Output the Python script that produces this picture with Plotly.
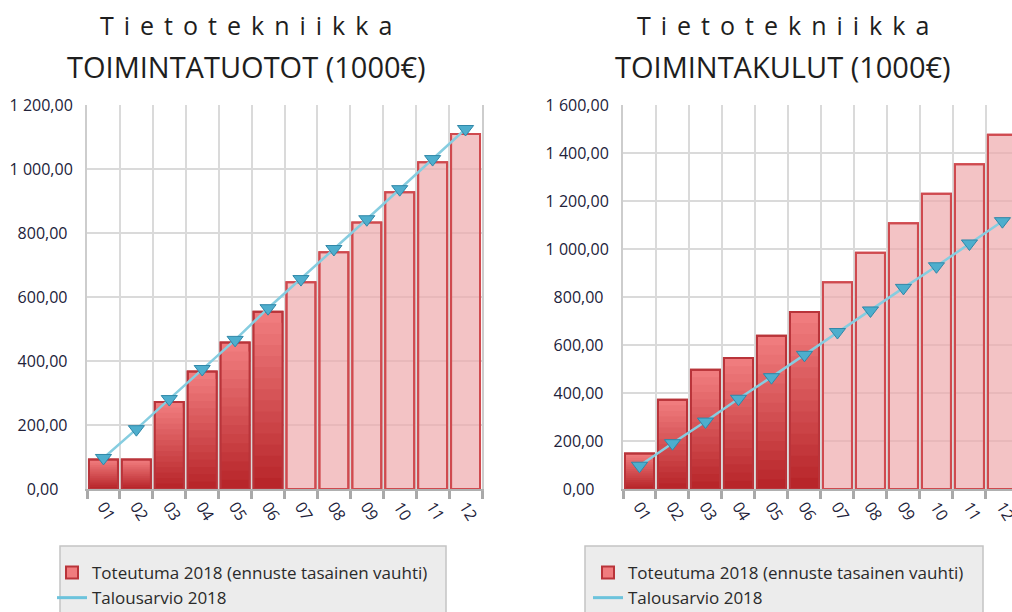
import plotly.graph_objects as go

# kuukaudet
months = ["01", "02", "03", "04", "05", "06", "07", "08", "09", "10", "11", "12"]
n_realised = 6  # 01-06 toteutuma, 07-12 ennuste

# TOIMINTATUOTOT (1000€)
tuotot_toteutuma = [92, 92, 272, 367, 458, 554, 646, 740, 833, 927, 1021, 1109]
tuotot_talousarvio = [97, 187, 281, 375, 466, 565, 656, 750, 843, 937, 1031, 1125]
tuotot_ticks = [0, 200, 400, 600, 800, 1000, 1200]
tuotot_ticktext = ["0,00", "200,00", "400,00", "600,00", "800,00", "1 000,00", "1 200,00"]

# TOIMINTAKULUT (1000€)
kulut_toteutuma = [148, 372, 497, 546, 639, 738, 861, 984, 1107, 1230, 1353, 1476]
kulut_talousarvio = [97, 191, 281, 376, 466, 559, 654, 744, 838, 928, 1023, 1116]
kulut_ticks = [0, 200, 400, 600, 800, 1000, 1200, 1400, 1600]
kulut_ticktext = ["0,00", "200,00", "400,00", "600,00", "800,00",
                  "1 000,00", "1 200,00", "1 400,00", "1 600,00"]

W, H = 1012, 612
FONT = "Open Sans"
TOP = (240, 124, 126)
BOTTOM = (184, 38, 42)
FORECAST_FILL = "rgba(238,170,172,0.70)"
N_BANDS = 16


def mix(t):
    c = [round(a + (b - a) * t) for a, b in zip(TOP, BOTTOM)]
    return "rgb(%d,%d,%d)" % tuple(c)


def px_x(v):
    return v / W


def px_y(v):
    return 1 - v / H


def centred(labels):
    # akselin numerot ovat alkuperäisessä keskitetty, plotly tasaa oikealle
    pad = {4: "\u2007\u2009\u2009", 6: "\u2009\u2009", 8: ""}
    return [t + pad.get(len(t), "") for t in labels]


fig = go.Figure()


def add_panel(values, budget, xa, ya, legend):
    realised = [i < n_realised for i in range(len(months))]
    base = [mix(0) if r else FORECAST_FILL for r in realised]
    edges = ["#b9343a" if r else "#cf4a4f" for r in realised]
    fig.add_trace(go.Bar(
        x=months, y=values, name="Toteutuma 2018 (ennuste tasainen vauhti)",
        marker=dict(color=base, line=dict(color=edges, width=2)),
        xaxis=xa, yaxis=ya, legend=legend))
    # liukuvärjäys toteutuneille kuukausille
    for k in range(1, N_BANDS):
        f = 1 - k / N_BANDS
        ys = [v * f if r else None for v, r in zip(values, realised)]
        fig.add_trace(go.Bar(
            x=months, y=ys, marker=dict(color=mix(k / (N_BANDS - 1)), line_width=0),
            showlegend=False, hoverinfo="skip", xaxis=xa, yaxis=ya))
    fig.add_trace(go.Bar(
        x=months, y=values, marker=dict(color="rgba(0,0,0,0)", line=dict(color=edges, width=2)),
        showlegend=False, hoverinfo="skip", xaxis=xa, yaxis=ya))
    fig.add_trace(go.Scatter(
        x=months, y=budget, mode="lines+markers", showlegend=False,
        line=dict(color="#86cde0", width=2.5),
        marker=dict(symbol="triangle-down", size=14, color="#4eaecd",
                    line=dict(color="#2f87a8", width=1)),
        xaxis=xa, yaxis=ya))
    fig.add_trace(go.Scatter(
        x=[None], y=[None], mode="lines", name="Talousarvio 2018",
        line=dict(color="#6cc3dc", width=3), xaxis=xa, yaxis=ya, legend=legend))


add_panel(tuotot_toteutuma, tuotot_talousarvio, "x", "y", "legend")
add_panel(kulut_toteutuma, kulut_talousarvio, "x2", "y2", "legend2")

ydom = [px_y(489), px_y(105)]
tickfont = dict(family=FONT, size=16, color="#22223a")
xcommon = dict(type="category", tickson="boundaries", ticks="outside", ticklen=8, tickwidth=3,
               tickcolor="#a9a9a9", showgrid=True, gridcolor="#dadada", gridwidth=2,
               showline=True, linecolor="#b0b0b0", linewidth=2, tickangle=58,
               automargin=False, tickfont=tickfont)
ycommon = dict(showgrid=True, gridcolor="#dadada", gridwidth=2,
               showline=True, linecolor="#cdcdcd", linewidth=2, zeroline=False,
               ticks="", ticklabelstandoff=9, domain=ydom, automargin=False,
               tickfont=tickfont)

legend_style = dict(xanchor="left", yanchor="top", bgcolor="rgba(0,0,0,0)",
                    font=dict(family=FONT, size=17, color="#2a2a2a"))

fig.update_layout(
    width=W, height=H, margin=dict(l=0, r=0, t=0, b=0, autoexpand=False),
    plot_bgcolor="white", paper_bgcolor="white",
    barmode="overlay", bargap=0.12,
    xaxis=dict(domain=[px_x(87), px_x(482)], anchor="y", range=[-0.5, 11.5], **xcommon),
    yaxis=dict(anchor="x", range=[0, 1200], mirror=True, tickvals=tuotot_ticks,
               ticktext=centred(tuotot_ticktext), **ycommon),
    xaxis2=dict(domain=[px_x(623), 1.0], anchor="y2", range=[-0.5, 11.29], **xcommon),
    yaxis2=dict(anchor="x2", range=[0, 1600], tickvals=kulut_ticks,
                ticktext=centred(kulut_ticktext), **ycommon),
    legend=dict(x=px_x(52), y=px_y(555), **legend_style),
    legend2=dict(x=px_x(588), y=px_y(555), **legend_style),
)

# legendan laatikot
for x0, x1 in [(60, 446), (585, 983)]:
    fig.add_shape(type="rect", xref="paper", yref="paper", layer="below",
                  x0=px_x(x0), x1=px_x(x1), y0=px_y(546), y1=px_y(640),
                  fillcolor="#ececec", line=dict(color="#c4c4c4", width=1.5))

# otsikot
for cx, sub in [(246, "TOIMINTATUOTOT (1000€)"), (783, "TOIMINTAKULUT (1000€)")]:
    fig.add_annotation(x=px_x(cx + 5), y=px_y(25), xref="paper", yref="paper", showarrow=False,
                       xanchor="center", yanchor="middle",
                       text='<span style="letter-spacing:10px">Tietotekniikka</span>',
                       font=dict(family=FONT, size=25, color="#1e1e1e"))
    fig.add_annotation(x=px_x(cx), y=px_y(66), xref="paper", yref="paper", showarrow=False,
                       xanchor="center", yanchor="middle",
                       text=sub, font=dict(family=FONT, size=29, color="#1e1e1e"))

fig.write_html("out.html", config={"displayModeBar": False},
               post_script="document.body.style.margin='0px';")
